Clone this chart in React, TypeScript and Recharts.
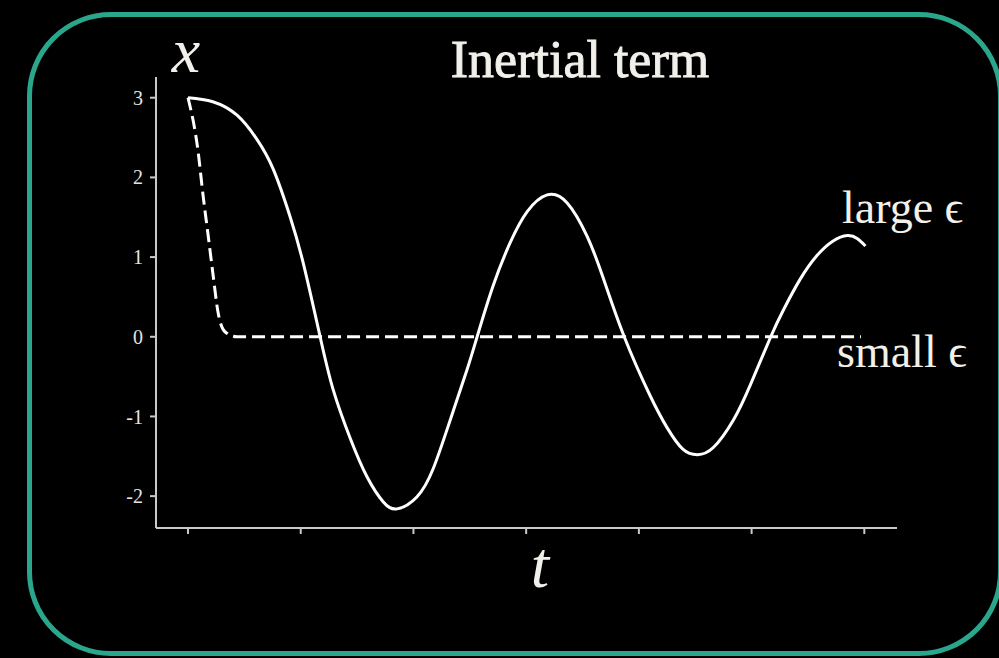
import React from "react";
import { LineChart, Line, XAxis, YAxis } from "recharts";

// large epsilon response (solid)
const largeT = [
  0, 0.22, 0.435, 0.61, 0.757, 0.905, 1.023, 1.172, 1.287, 1.438, 1.589, 1.731,
  1.855, 2.03, 2.175, 2.325, 2.476, 2.565, 2.707, 2.858, 3.009, 3.186, 3.364,
  3.541, 3.683, 3.87, 4.1, 4.25, 4.39, 4.52, 4.66, 4.84, 4.99, 5.17, 5.28, 5.43,
  5.58, 5.72, 5.85, 5.94, 6.01,
];
const largeX = [
  3.0, 2.95, 2.78, 2.48, 2.1, 1.51, 0.92, 0.0, -0.66, -1.27, -1.76, -2.07,
  -2.16, -2.01, -1.656, -1.05, -0.41, 0.0, 0.64, 1.18, 1.57, 1.78, 1.68, 1.26,
  0.74, 0.0, -0.74, -1.14, -1.41, -1.48, -1.39, -1.04, -0.6, 0.0, 0.33, 0.72,
  1.02, 1.2, 1.27, 1.23, 1.14,
];

// small epsilon response (dashed)
const smallT = [0, 0.09, 0.133, 0.178, 0.222, 0.266, 0.33, 0.435, 1.5, 3, 4.5, 5.97];
const smallX = [3.0, 2.32, 1.78, 1.28, 0.78, 0.31, 0.06, 0, 0, 0, 0, 0];

const xTicks = [0, 1, 2, 3, 4, 5, 6];
const yTicks = [-2, -1, 0, 1, 2, 3];

const largeData = largeT.map((t, i) => ({ t, x: largeX[i] }));
const smallData = smallT.map((t, i) => ({ t, x: smallX[i] }));

const W = 999;
const H = 658;
const serif = '"Liberation Serif", "DejaVu Serif", serif';
const ink = "#f2f0ea";
const axisColor = "#c9c9c9";

export default function App() {
  return (
    <div
      style={{
        position: "fixed",
        left: 0,
        top: 0,
        width: W,
        height: H,
        background: "#000",
        overflow: "hidden",
      }}
    >
      <div
        style={{
          position: "absolute",
          left: 27,
          top: 12,
          width: 1003 - 27,
          height: 656 - 12,
          boxSizing: "border-box",
          border: "5px solid #2aa68c",
          borderRadius: 84,
        }}
      />
      <div style={{ position: "absolute", left: 0, top: 0 }}>
        <LineChart
          width={W}
          height={H}
          margin={{ top: 77, right: 102, bottom: 100, left: 116 }}
        >
          <XAxis
            type="number"
            dataKey="t"
            domain={[-0.284, 6.29]}
            ticks={xTicks}
            allowDataOverflow
            height={30}
            stroke={axisColor}
            strokeWidth={2}
            tickSize={6}
            tickFormatter={() => ""}
          />
          <YAxis
            type="number"
            dataKey="x"
            domain={[-2.4, 3.26]}
            ticks={yTicks}
            allowDataOverflow
            width={40}
            stroke={axisColor}
            strokeWidth={2}
            tickSize={6}
            tickMargin={7}
            tick={{ fill: "#e4e4e4", fontSize: 20, fontFamily: serif }}
          />
          <Line
            data={largeData}
            dataKey="x"
            type="natural"
            stroke="#ffffff"
            strokeWidth={3}
            dot={false}
            isAnimationActive={false}
          />
          <Line
            data={smallData}
            dataKey="x"
            type="monotone"
            stroke="#ffffff"
            strokeWidth={3}
            strokeDasharray="13 6"
            dot={false}
            isAnimationActive={false}
          />
        </LineChart>
      </div>
      <svg
        width={W}
        height={H}
        style={{ position: "absolute", left: 0, top: 0, pointerEvents: "none" }}
      >
        <text
          x={580}
          y={77}
          textAnchor="middle"
          fill={ink}
          stroke={ink}
          strokeWidth={0.9}
          fontSize={52}
          fontFamily={serif}
        >
          Inertial term
        </text>
        <text x={186} y={72} textAnchor="middle" fill={ink} fontSize={64} fontStyle="italic" fontFamily={serif}>
          x
        </text>
        <text x={540} y={587} textAnchor="middle" fill={ink} fontSize={66} fontStyle="italic" fontFamily={serif}>
          t
        </text>
        <text x={842} y={223} fill={ink} fontSize={46} fontFamily={serif}>
          large ϵ
        </text>
        <text x={837} y={367} fill={ink} fontSize={46} fontFamily={serif}>
          small ϵ
        </text>
      </svg>
    </div>
  );
}
